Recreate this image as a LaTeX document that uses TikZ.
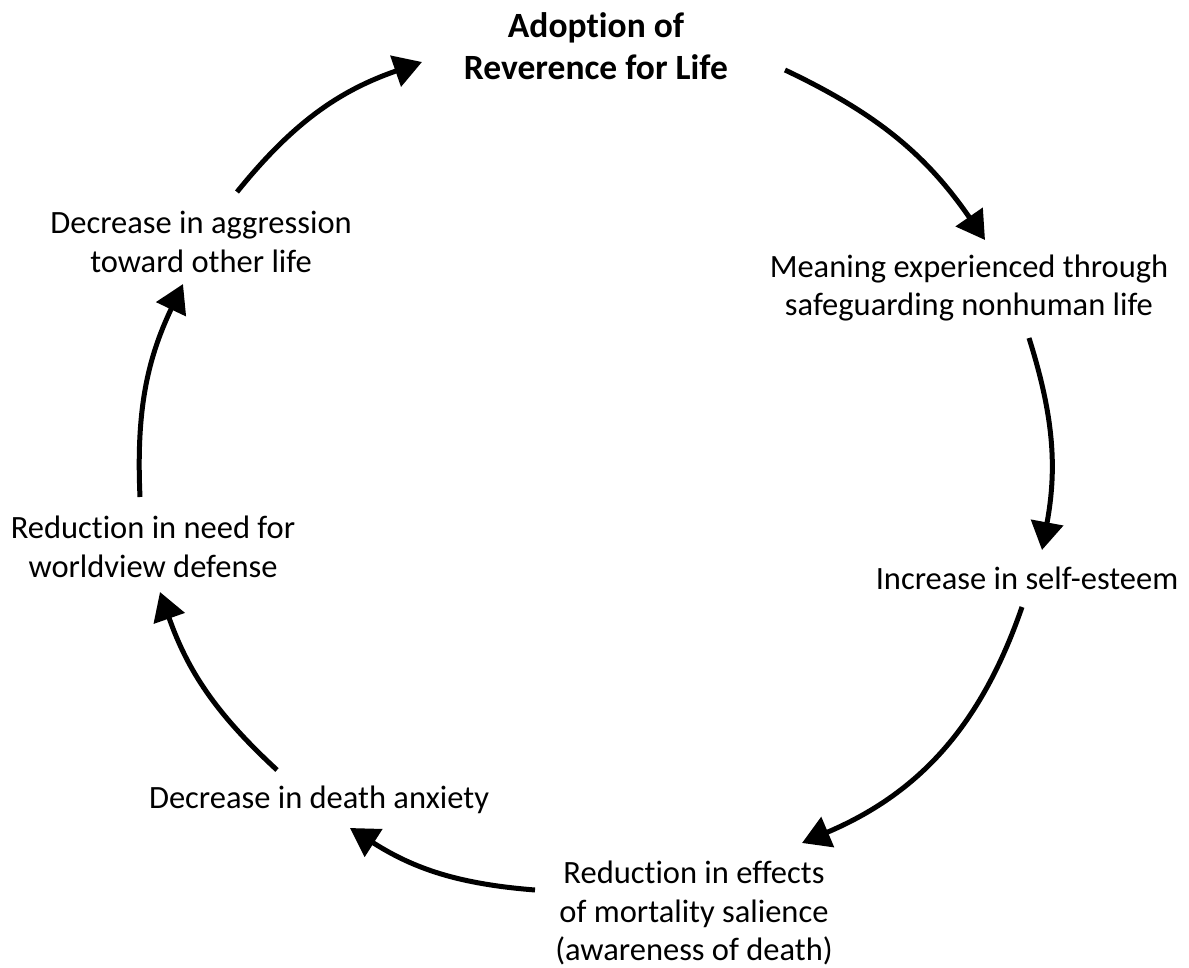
\documentclass[tikz,border=0pt]{standalone}
\usepackage{fontspec}
\setmainfont{Carlito}[Ligatures={NoCommon}]
\usetikzlibrary{arrows.meta}
\begin{document}
\begin{tikzpicture}[x=1pt,y=-1pt,
  lbl/.style={font=\fontsize{32.5}{38.5}\selectfont, align=center, inner sep=0pt},
  ttl/.style={font=\fontsize{35.5}{42}\selectfont\bfseries, align=center, inner sep=0pt},
  conn/.style={line width=5pt, -{Triangle[length=28pt,width=32pt]}}]
\useasboundingbox[fill=white] (0,0) rectangle (1189,968);
\node[ttl] (adopt) at (596,46) {Adoption of\\Reverence for Life};
\node[lbl] (mean) at (969,288) {Meaning experienced through\\safeguarding nonhuman life};
\node[lbl] (selfest) at (1027,578) {Increase in self-esteem};
\node[lbl] (mort) at (694,913) {Reduction in effects\\of mortality salience\\(awareness of death)};
\node[lbl] (anx) at (319,800) {Decrease in death anxiety};
\node[lbl] (wv) at (153,547) {Reduction in need for\\worldview defense};
\node[lbl] (agg) at (201,242) {Decrease in aggression\\toward other life};
\coordinate (s1) at (237,192); \coordinate (e1) at (422,62);
\coordinate (s2) at (785,70);  \coordinate (e2) at (985,240);
\coordinate (s3) at (1029,338); \coordinate (e3) at (1042,550);
\coordinate (s4) at (1022,607); \coordinate (e4) at (802,843);
\coordinate (s5) at (535,890); \coordinate (e5) at (350,828);
\coordinate (s6) at (277,770); \coordinate (e6) at (160,592);
\coordinate (s7) at (140,497); \coordinate (e7) at (183,284);
\draw[conn] (s1) to[bend left=16] (e1);
\draw[conn] (s2) to[bend left=15] (e2);
\draw[conn] (s3) to[bend left=14] (e3);
\draw[conn] (s4) to[bend left=24] (e4);
\draw[conn] (s5) to[bend left=14] (e5);
\draw[conn] (s6) to[bend left=14] (e6);
\draw[conn] (s7) to[bend left=14] (e7);
\end{tikzpicture}
\end{document}
